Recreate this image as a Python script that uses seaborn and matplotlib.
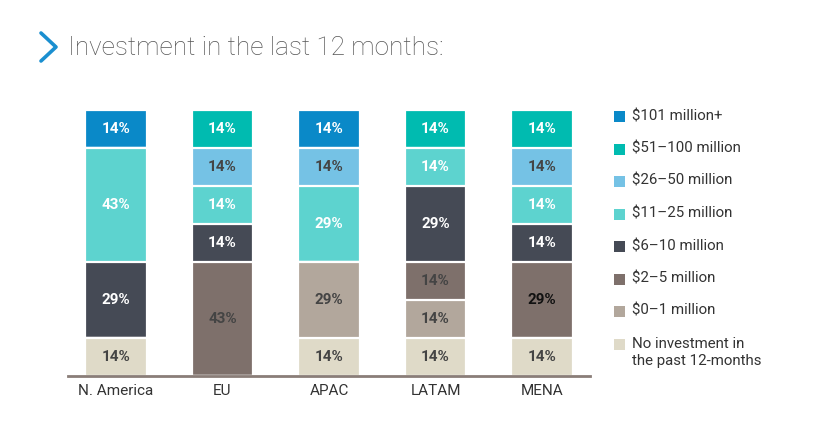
import seaborn as sns
import pandas as pd
import numpy as np
import matplotlib.pyplot as plt
from matplotlib.patches import Rectangle
from matplotlib.lines import Line2D

# data, bottom segment first
regions = ['N. America', 'EU', 'APAC', 'LATAM', 'MENA']
segments = ['No investment in\nthe past 12-months', '$0–1 million', '$2–5 million',
            '$6–10 million', '$11–25 million', '$26–50 million', '$51–100 million',
            '$101 million+']
no_invest = [14.3, 0, 14.3, 14.3, 14.3]
m0_1 = [0, 0, 28.6, 14.3, 0]
m2_5 = [0, 42.9, 0, 14.3, 28.6]
m6_10 = [28.6, 14.3, 0, 28.6, 14.3]
m11_25 = [42.9, 14.3, 28.6, 14.3, 14.3]
m26_50 = [0, 14.3, 14.3, 0, 14.3]
m51_100 = [0, 14.3, 0, 14.3, 14.3]
m101 = [14.3, 0, 14.3, 0, 0]

colors = ['#dfdac8', '#b2a79c', '#7e706b', '#454a55', '#5dd3cf', '#75c2e5', '#00bbb0', '#0a89c8']
text_colors = ['#444444', '#444444', '#444444', 'white', 'white', '#444444', 'white', 'white']

df = pd.DataFrame({'region': regions})
for s, v in zip(segments, [no_invest, m0_1, m2_5, m6_10, m11_25, m26_50, m51_100, m101]):
    df[s] = v

sns.set_theme(style='white')
plt.rcParams['font.family'] = ['Roboto', 'DejaVu Sans']

fig = plt.figure(figsize=(8.17, 4.26), dpi=100)
ax = fig.add_axes([68 / 817, 50 / 426, 522 / 817, 266 / 426])

cum = df[segments].cumsum(axis=1)
# draw from the top layer down so each lower layer covers the one above
for i in range(len(segments) - 1, -1, -1):
    sns.barplot(x=df['region'], y=cum[segments[i]], color=colors[i], width=0.58,
                edgecolor='white', linewidth=1.6, saturation=1, ax=ax)

for j in range(len(regions)):
    bottom = 0
    for i, s in enumerate(segments):
        v = df[s][j]
        if v > 0:
            c = text_colors[i]
            if regions[j] == 'MENA' and i == 2:
                c = '#111111'
            ax.text(j, bottom + v / 2, f'{v:.0f}%', ha='center', va='center',
                    fontsize=11, fontweight='bold', color=c)
        bottom += v

ax.set_xlim(-0.45, 4.45)
ax.set_ylim(0, 100.1)
ax.set_xlabel('')
ax.set_ylabel('')
ax.set_yticks([])
for sp in ['top', 'left', 'right']:
    ax.spines[sp].set_visible(False)
ax.spines['bottom'].set_color('#8a7d78')
ax.spines['bottom'].set_linewidth(2)
ax.tick_params(axis='x', length=0, pad=6, labelsize=11, labelcolor='#333333')

# title with chevron
fig.add_artist(Line2D([41 / 817, 56 / 817, 41 / 817], [1 - 33 / 426, 1 - 47 / 426, 1 - 61 / 426],
                      color='#1a8fd0', linewidth=2.6, transform=fig.transFigure))
fig.text(68 / 817, 1 - 48 / 426, 'Investment in the last 12 months:', fontsize=18.8,
         fontweight='light', color='#555555', va='center', ha='left')

# legend, top entry first
leg_y = [116.5, 149, 181.5, 214, 246.5, 279, 311.5, 344]
for k, i in enumerate(range(len(segments) - 1, -1, -1)):
    y = leg_y[k]
    fig.add_artist(Rectangle((614 / 817, 1 - (y + 5.5) / 426), 11 / 817, 11 / 426,
                             facecolor=colors[i], edgecolor='none', transform=fig.transFigure))
    fig.text(632 / 817, 1 - (y - 7.5) / 426, segments[i], fontsize=10.8, color='#333333',
             va='top', ha='left', linespacing=1.3)

fig.savefig('out.png', dpi=100)
